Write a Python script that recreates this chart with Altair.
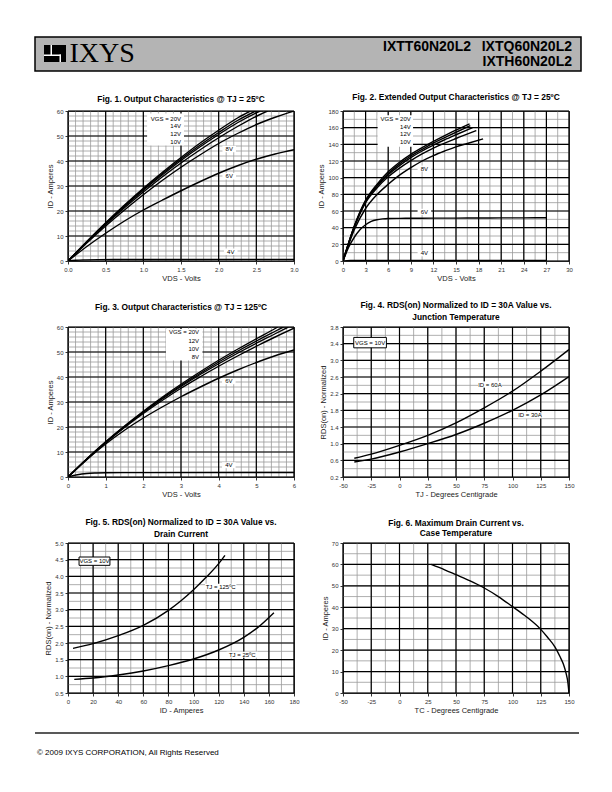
import altair as alt
import pandas as pd

W, H = 226, 150
SANS = "Liberation Sans, Arial, Helvetica, sans-serif"
TITLEFONT = "Liberation Sans, Arial, Helvetica, sans-serif"
SERIF = "Liberation Serif, Times New Roman, serif"
MINOR = "#9a9a9a"

# ---------------- Fig. 1 : output characteristics, TJ = 25 C ----------------
f1_x_20v = [0, 0.25, 0.5, 0.75, 1.0, 1.25, 1.5, 1.75, 2.0, 2.25, 2.42]
f1_y_20v = [0, 7.8, 15.3, 22.4, 29.1, 35.4, 41.4, 47.1, 52.3, 57.2, 60]
f1_x_14v = [0, 0.25, 0.5, 0.75, 1.0, 1.25, 1.5, 1.75, 2.0, 2.25, 2.49]
f1_y_14v = [0, 7.7, 15.1, 22.1, 28.7, 34.9, 40.8, 46.3, 51.4, 56.2, 60]
f1_x_12v = [0, 0.25, 0.5, 0.75, 1.0, 1.25, 1.5, 1.75, 2.0, 2.25, 2.5, 2.55]
f1_y_12v = [0, 7.6, 14.9, 21.8, 28.3, 34.4, 40.2, 45.6, 50.6, 55.3, 59.3, 60]
f1_x_10v = [0, 0.25, 0.5, 0.75, 1.0, 1.25, 1.5, 1.75, 2.0, 2.25, 2.5, 2.65]
f1_y_10v = [0, 7.5, 14.6, 21.3, 27.6, 33.6, 39.2, 44.4, 49.3, 53.8, 57.9, 60]
f1_x_8v = [0, 0.25, 0.5, 0.75, 1.0, 1.25, 1.5, 1.75, 2.0, 2.25, 2.5, 2.75, 3.0]
f1_y_8v = [0, 7.2, 14.0, 20.4, 26.5, 32.2, 37.5, 42.4, 47.0, 51.0, 54.6, 57.5, 60.0]
f1_x_6v = [0, 0.25, 0.5, 0.75, 1.0, 1.25, 1.5, 1.75, 2.0, 2.25, 2.5, 2.75, 3.0]
f1_y_6v = [0, 5.8, 11.1, 16.0, 20.4, 24.3, 28.1, 31.7, 35.1, 38.1, 40.7, 42.8, 44.5]
f1_x_4v = [0, 0.1, 0.2, 0.4, 0.8, 1.5, 3.0]
f1_y_4v = [0, 0.3, 0.45, 0.55, 0.6, 0.62, 0.65]
f1_stack_text = ["VGS = 20V", "14V", "12V", "10V"]
f1_stack_y = [57.0, 53.9, 50.8, 47.6]
f1_single_text = ["8V", "6V", "4V"]
f1_single_x = [2.14, 2.14, 2.16]
f1_single_y = [44.8, 33.9, 3.7]

# ---------------- Fig. 2 : extended output characteristics ----------------
f2_x_20v = [0, 1.5, 3, 4.5, 6, 7.5, 9, 10.5, 12, 13.5, 15, 16.8]
f2_y_20v = [0, 42, 73, 92, 107, 118.5, 128, 136, 143.5, 150.5, 157, 164.5]
f2_x_14v = [0, 1.5, 3, 4.5, 6, 7.5, 9, 10.5, 12, 13.5, 15, 16.9]
f2_y_14v = [0, 41.5, 72, 90.5, 105, 116.5, 126, 134, 141.5, 148, 154.5, 162.5]
f2_x_12v = [0, 1.5, 3, 4.5, 6, 7.5, 9, 10.5, 12, 13.5, 15, 17.2]
f2_y_12v = [0, 41, 71, 89.5, 103.5, 114.5, 124, 132, 139, 145.5, 151.5, 160]
f2_x_10v = [0, 1.5, 3, 4.5, 6, 7.5, 9, 10.5, 12, 13.5, 15, 17.7]
f2_y_10v = [0, 40.5, 70, 87.5, 101, 111.5, 120.5, 128.5, 135.5, 141.5, 147, 156.5]
f2_x_8v = [0, 1.5, 3, 4.5, 6, 7.5, 9, 10.5, 12, 13.5, 15, 16.5, 18.6]
f2_y_8v = [0, 37.5, 63, 79.5, 92, 103, 112, 120, 126.5, 132, 137, 141, 146.5]
f2_x_6v = [0, 0.75, 1.5, 2.25, 3, 3.75, 4.5, 5.25, 6, 7.5, 9, 12, 15, 18, 21, 24, 27]
f2_y_6v = [0, 16.5, 28.5, 37.5, 43.5, 47.5, 49.5, 50.5, 51, 51.2, 51.3, 51.4, 51.5, 51.6, 51.7, 51.8, 51.9]
f2_x_4v = [0, 0.5, 1, 3, 27]
f2_y_4v = [0, 0.5, 0.6, 0.65, 0.7]
f2_stack_text = ["VGS = 20V", "14V", "12V", "10V"]
f2_stack_y = [170, 160.8, 152, 142.5]
f2_single_text = ["8V", "6V", "4V"]
f2_single_x = [10.8, 10.8, 10.8]
f2_single_y = [111, 59, 9.2]

# ---------------- Fig. 3 : output characteristics, TJ = 125 C ----------------
f3_x_20v = [0, 0.5, 1, 1.5, 2, 2.5, 3, 3.5, 4, 4.5, 5, 5.5, 5.57]
f3_y_20v = [0, 7.3, 14.1, 20.4, 26.3, 31.9, 37.1, 42.0, 46.7, 51.1, 55.3, 59.4, 60]
f3_x_12v = [0, 0.5, 1, 1.5, 2, 2.5, 3, 3.5, 4, 4.5, 5, 5.5, 5.72]
f3_y_12v = [0, 7.2, 14.0, 20.2, 26.0, 31.5, 36.6, 41.4, 46.0, 50.3, 54.4, 58.3, 60]
f3_x_10v = [0, 0.5, 1, 1.5, 2, 2.5, 3, 3.5, 4, 4.5, 5, 5.5, 5.85]
f3_y_10v = [0, 7.2, 13.9, 20.0, 25.8, 31.2, 36.2, 40.9, 45.3, 49.5, 53.5, 57.3, 60]
f3_x_8v = [0, 0.5, 1, 1.5, 2, 2.5, 3, 3.5, 4, 4.5, 5, 5.5, 6]
f3_y_8v = [0, 7.1, 13.7, 19.8, 25.4, 30.6, 35.5, 40.0, 44.3, 48.4, 52.3, 56.0, 59.5]
f3_x_6v = [0, 0.5, 1, 1.5, 2, 2.5, 3, 3.5, 4, 4.5, 5, 5.5, 6]
f3_y_6v = [0, 6.9, 13.2, 18.7, 23.6, 28.0, 32.1, 35.9, 39.5, 42.8, 45.8, 48.5, 50.8]
f3_x_4v = [0, 0.25, 0.5, 0.75, 1, 2, 6]
f3_y_4v = [0, 0.9, 1.4, 1.6, 1.7, 1.75, 1.8]
f3_stack_text = ["VGS = 20V", "12V", "10V", "8V"]
f3_stack_y = [57.9, 54.5, 51.2, 47.9]
f3_single_text = ["6V", "4V"]
f3_single_x = [4.27, 4.27]
f3_single_y = [38.3, 4.7]

# ---------------- Fig. 4 : RDS(on) vs junction temperature ----------------
f4_tj = [-40, -25, 0, 25, 50, 75, 100, 125, 150]
f4_r_60a = [0.65, 0.75, 0.96, 1.2, 1.5, 1.86, 2.26, 2.74, 3.26]
f4_r_30a = [0.56, 0.63, 0.8, 1.0, 1.22, 1.49, 1.8, 2.17, 2.61]
f4_single_text = ["ID = 60A", "ID = 30A"]
f4_single_x = [80, 115.4]
f4_single_y = [2.42, 1.68]

# ---------------- Fig. 5 : RDS(on) vs drain current ----------------
f5_id_125 = [4, 20, 40, 60, 80, 90, 100, 110, 120, 125]
f5_r_125 = [1.84, 1.98, 2.22, 2.53, 2.98, 3.27, 3.6, 3.97, 4.38, 4.63]
f5_id_25 = [5, 20, 40, 60, 80, 100, 120, 140, 150, 164]
f5_r_25 = [0.91, 0.95, 1.04, 1.16, 1.32, 1.52, 1.79, 2.17, 2.43, 2.91]
f5_single_text = ["TJ = 125ºC", "TJ = 25ºC"]
f5_single_x = [121.6, 138.8]
f5_single_y = [3.69, 1.65]

# ---------------- Fig. 6 : max drain current vs case temperature ----------------
f6_tc = [28, 40, 50, 62.5, 75, 87.5, 100, 112.5, 125, 131, 137.5, 142, 145, 147.5, 149, 150]
f6_id = [60, 57.5, 55.2, 52.3, 49, 45, 40.3, 35.5, 29.7, 26, 21.5, 17, 13.5, 9, 5, 0]


def ticks(start, stop, step):
    n = int(round((stop - start) / step))
    return [round(start + i * step, 6) for i in range(n + 1)]


def curves_table(series):
    rows = []
    for name, xs, ys in series:
        for i, (a, b) in enumerate(zip(xs, ys)):
            rows.append({"s": name, "i": i, "x": a, "y": b})
    return pd.DataFrame(rows)


def one():
    return pd.DataFrame({"k": [0]})


def ptext(txt, x, y, size, weight="normal", font=SANS, align="center", baseline="middle", color="black"):
    return alt.Chart(one()).mark_text(
        fontSize=size, fontWeight=weight, font=font, align=align, baseline=baseline, color=color
    ).encode(x=alt.value(x), y=alt.value(y), text=alt.value(txt))


def prect(x1, x2, y1, y2, fill, **kw):
    return alt.Chart(one()).mark_rect(fill=fill, **kw).encode(
        x=alt.value(x1), x2=alt.value(x2), y=alt.value(y1), y2=alt.value(y2))


HYPHEN = "replace(datum.label, '\u2212', '-')"


def figure(titles, xdom, ydom, xmaj, xmin, ymaj, ymin, xfmt, yfmt, xtitle, ytitle,
           series, stack=None, singles=None, boxed=None, extra=()):
    xs = alt.Scale(domain=xdom, nice=False, zero=False)
    ys = alt.Scale(domain=ydom, nice=False, zero=False)
    xax = alt.Axis(values=xmaj, format=xfmt, title=xtitle, labelExpr=HYPHEN)
    yax = alt.Axis(values=ymaj, format=yfmt, title=ytitle, labelExpr=HYPHEN)

    def X(f="x"):
        return alt.X(f + ":Q", scale=xs, axis=xax)

    def Y(f="y"):
        return alt.Y(f + ":Q", scale=ys, axis=yax)

    layers = [
        alt.Chart(pd.DataFrame({"x": xmin})).mark_rule(color=MINOR, strokeWidth=0.8).encode(x=X()),
        alt.Chart(pd.DataFrame({"y": ymin})).mark_rule(color=MINOR, strokeWidth=0.8).encode(y=Y()),
        alt.Chart(pd.DataFrame({"x": xmaj})).mark_rule(color="black", strokeWidth=1.2).encode(x=X()),
        alt.Chart(pd.DataFrame({"y": ymaj})).mark_rule(color="black", strokeWidth=1.2).encode(y=Y()),
    ]
    boxes = []
    if stack is not None:
        x1, x2, y1, y2 = stack["box"]
        boxes.append({"x1": x1, "x2": x2, "y1": y1, "y2": y2})
    if singles is not None:
        dx, dy = singles["d"]
        for sx, sy in zip(singles["x"], singles["y"]):
            boxes.append({"x1": sx - dx, "x2": sx + dx, "y1": sy - dy, "y2": sy + dy})
    if boxes:
        layers.append(
            alt.Chart(pd.DataFrame(boxes)).mark_rect(color="white").encode(
                x=X("x1"), x2=alt.X2("x2:Q"), y=Y("y1"), y2=alt.Y2("y2:Q"))
        )
    layers.append(
        alt.Chart(curves_table(series)).mark_line(
            color="black", strokeWidth=1.4, clip=True, interpolate="monotone"
        ).encode(x=X(), y=Y(), detail="s:N", order="i:Q")
    )
    if stack is not None:
        df = pd.DataFrame({"t": stack["text"], "y": stack["y"], "x": [stack["x"]] * len(stack["text"])})
        layers.append(
            alt.Chart(df).mark_text(align="right", baseline="middle", fontSize=6, font=SANS, color="black")
            .encode(x=X(), y=Y(), text="t:N")
        )
    if singles is not None:
        df = pd.DataFrame({"t": singles["text"], "x": singles["x"], "y": singles["y"]})
        layers.append(
            alt.Chart(df).mark_text(align="center", baseline="middle", fontSize=6, font=SANS, color="black")
            .encode(x=X(), y=Y(), text="t:N")
        )
    if boxed is not None:
        x1, x2, y1, y2 = boxed["box"]
        layers.append(
            alt.Chart(pd.DataFrame([{"x1": x1, "x2": x2, "y1": y1, "y2": y2}])).mark_rect(
                fill="white", stroke="black", strokeWidth=1
            ).encode(x=X("x1"), x2=alt.X2("x2:Q"), y=Y("y1"), y2=alt.Y2("y2:Q"))
        )
        layers.append(
            alt.Chart(pd.DataFrame([{"t": boxed["text"], "x": (x1 + x2) / 2, "y": (y1 + y2) / 2}]))
            .mark_text(align="center", baseline="middle", fontSize=6, font=SANS, color="black")
            .encode(x=X(), y=Y(), text="t:N")
        )
    for txt, ty in titles:
        layers.append(ptext(txt, W / 2, ty, 8.4, weight="bold", font=TITLEFONT))
    layers.extend(extra)
    return alt.layer(*layers).properties(width=W, height=H)


# ---------------- header (drawn relative to Fig. 1 plot area) ----------------
header = [
    prect(-33, 513, -74, -40, "#b4b4b4", stroke="black", strokeWidth=1.5),
    prect(-24, -2, -66, -49, "black"),
    prect(-17.5, -16, -66, -55, "white"),
    prect(-24, -7, -56.5, -55, "white"),
    prect(-8.5, -7, -56.5, -49, "white"),
    ptext("IXYS", 1.5, -49, 28, font=SERIF, align="left", baseline="alphabetic"),
    ptext("IXTT60N20L2", 403, -60, 14, weight="bold", align="right", baseline="alphabetic"),
    ptext("IXTQ60N20L2", 504, -60, 14, weight="bold", align="right", baseline="alphabetic"),
    ptext("IXTH60N20L2", 504, -45, 14, weight="bold", align="right", baseline="alphabetic"),
]

# ---------------- footer (drawn relative to Fig. 5 plot area) ----------------
footer = [
    alt.Chart(one()).mark_rule(color="#222", strokeWidth=1.5).encode(
        x=alt.value(-33), x2=alt.value(511), y=alt.value(190)),
    ptext("© 2009 IXYS CORPORATION, All Rights Reserved", -31, 212, 8, align="left", baseline="alphabetic"),
]

fig1 = figure(
    [("Fig. 1. Output Characteristics @ TJ = 25ºC", -12.3)],
    [0, 3], [0, 60], ticks(0, 3, 0.5), ticks(0, 3, 0.1), ticks(0, 60, 10), ticks(0, 60, 2),
    ".1f", "d", "VDS - Volts", "ID - Amperes",
    [("20V", f1_x_20v, f1_y_20v), ("14V", f1_x_14v, f1_y_14v), ("12V", f1_x_12v, f1_y_12v),
     ("10V", f1_x_10v, f1_y_10v), ("8V", f1_x_8v, f1_y_8v), ("6V", f1_x_6v, f1_y_6v),
     ("4V", f1_x_4v, f1_y_4v)],
    stack={"text": f1_stack_text, "y": f1_stack_y, "x": 1.5, "box": (1.05, 1.54, 46.2, 59.0)},
    singles={"text": f1_single_text, "x": f1_single_x, "y": f1_single_y, "d": (0.09, 1.3)},
    extra=header,
)

fig2 = figure(
    [("Fig. 2. Extended Output Characteristics @ TJ = 25ºC", -14)],
    [0, 30], [0, 180], ticks(0, 30, 3), ticks(0, 30, 1.5), ticks(0, 180, 20), ticks(0, 180, 10),
    "d", "d", "VDS - Volts", "ID - Amperes",
    [("20V", f2_x_20v, f2_y_20v), ("14V", f2_x_14v, f2_y_14v), ("12V", f2_x_12v, f2_y_12v),
     ("10V", f2_x_10v, f2_y_10v), ("8V", f2_x_8v, f2_y_8v), ("6V", f2_x_6v, f2_y_6v),
     ("4V", f2_x_4v, f2_y_4v)],
    stack={"text": f2_stack_text, "y": f2_stack_y, "x": 9.0, "box": (4.6, 9.3, 137, 175)},
    singles={"text": f2_single_text, "x": f2_single_x, "y": f2_single_y, "d": (0.9, 3.6)},
)

fig3 = figure(
    [("Fig. 3. Output Characteristics @ TJ = 125ºC", -19.7)],
    [0, 6], [0, 60], ticks(0, 6, 1), ticks(0, 6, 0.2), ticks(0, 60, 10), ticks(0, 60, 2),
    "d", "d", "VDS - Volts", "ID - Amperes",
    [("20V", f3_x_20v, f3_y_20v), ("12V", f3_x_12v, f3_y_12v), ("10V", f3_x_10v, f3_y_10v),
     ("8V", f3_x_8v, f3_y_8v), ("6V", f3_x_6v, f3_y_6v), ("4V", f3_x_4v, f3_y_4v)],
    stack={"text": f3_stack_text, "y": f3_stack_y, "x": 3.48, "box": (2.6, 3.57, 46.6, 59.2)},
    singles={"text": f3_single_text, "x": f3_single_x, "y": f3_single_y, "d": (0.18, 1.2)},
)

fig4 = figure(
    [("Fig. 4. RDS(on) Normalized to ID = 30A Value vs.", -22.3), ("Junction Temperature", -9.7)],
    [-50, 150], [0.2, 3.8], ticks(-50, 150, 25), ticks(-50, 150, 12.5), ticks(0.2, 3.8, 0.4),
    ticks(0.2, 3.8, 0.2), "d", ".1f", "TJ - Degrees Centigrade", "RDS(on) - Normalized",
    [("60A", f4_tj, f4_r_60a), ("30A", f4_tj, f4_r_30a)],
    singles={"text": f4_single_text, "x": f4_single_x, "y": f4_single_y, "d": (10.5, 0.075)},
    boxed={"text": "VGS = 10V", "box": (-40.5, -11.6, 3.3, 3.55)},
)

fig5 = figure(
    [("Fig. 5. RDS(on) Normalized to ID = 30A Value vs.", -21), ("Drain Current", -9.3)],
    [0, 180], [0.5, 5.0], ticks(0, 180, 20), ticks(0, 180, 10), ticks(0.5, 5.0, 0.5),
    ticks(0.5, 5.0, 0.25), "d", ".1f", "ID - Amperes", "RDS(on) - Normalized",
    [("125C", f5_id_125, f5_r_125), ("25C", f5_id_25, f5_r_25)],
    singles={"text": f5_single_text, "x": f5_single_x, "y": f5_single_y, "d": (12.5, 0.09)},
    boxed={"text": "VGS = 10V", "box": (8.8, 33.4, 4.33, 4.58)},
    extra=footer,
)

fig6 = figure(
    [("Fig. 6. Maximum Drain Current vs.", -20.3), ("Case Temperature", -10.3)],
    [-50, 150], [0, 70], ticks(-50, 150, 25), ticks(-50, 150, 12.5), ticks(0, 70, 10),
    ticks(0, 70, 5), "d", "d", "TC - Degrees Centigrade", "ID - Amperes",
    [("Imax", f6_tc, f6_id)],
)

chart = (
    alt.concat(fig1, fig2, fig3, fig4, fig5, fig6, columns=2,
               spacing={"row": 66, "column": 49}, bounds="flush")
    .properties(padding={"left": 25, "top": 27, "right": 0, "bottom": 0})
    .configure_view(stroke="black", strokeWidth=1)
    .configure_axis(
        labelFont=SANS, labelFontSize=6, labelColor="#333", labelPadding=2,
        labelFlush=False, labelOverlap=False,
        titleFont=SANS, titleFontSize=7.5, titleFontWeight="normal", titleColor="#222",
        titlePadding=2, tickColor="black", tickSize=3, tickWidth=0.8,
        domain=False, grid=False,
    )
)

chart.save("out.html", embed_options={"renderer": "svg", "actions": False})
